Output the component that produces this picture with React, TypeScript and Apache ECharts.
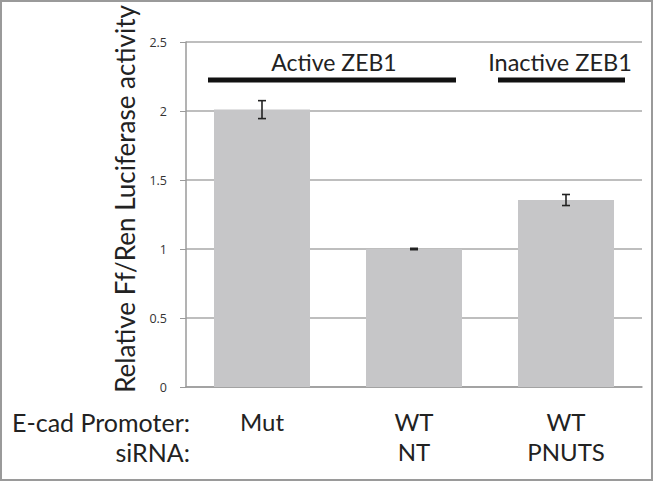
import React, { useEffect, useRef } from "react";
import * as echarts from "echarts";

const promoters = ["Mut", "WT", "WT"];
const sirnas = ["", "NT", "PNUTS"];
const values = [2.01, 1.0, 1.355];
const errors = [0.065, 0.005, 0.04];
const yTicks = [0, 0.5, 1, 1.5, 2, 2.5];
const groupLabels = ["Active ZEB1", "Inactive ZEB1"];
const yTitle = "Relative Ff/Ren Luciferase activity";

const FONT = "Lato";

export default function App() {
  const ref = useRef<HTMLDivElement>(null);
  useEffect(() => {
    if (!ref.current) return;
    const chart = echarts.init(ref.current, undefined, { renderer: "svg" });
    const categories = promoters.map((p, i) => p + "\n" + sirnas[i]);
    chart.setOption({
      animation: false,
      backgroundColor: "#ffffff",
      grid: { left: 186, right: 11, top: 42, bottom: 94, containLabel: false },
      xAxis: {
        type: "category",
        data: categories,
        axisLine: { show: true, lineStyle: { color: "#9a9a9a", width: 1.5 } },
        axisTick: { show: false },
        axisLabel: {
          color: "#222",
          fontFamily: FONT,
          fontSize: 24,
          lineHeight: 30,
          margin: 19,
          verticalAlign: "top",
        },
      },
      yAxis: {
        type: "value",
        min: yTicks[0],
        max: yTicks[yTicks.length - 1],
        interval: 0.5,
        axisLine: { show: true, lineStyle: { color: "#9a9a9a", width: 1.5 } },
        axisTick: { show: true, length: 6, lineStyle: { color: "#9a9a9a" } },
        axisLabel: { color: "#333", fontFamily: "Open Sans", fontSize: 12.5, margin: 19 },
        splitLine: { show: true, lineStyle: { color: "#a8a8a8", width: 1.5 } },
      },
      series: [
        {
          type: "bar",
          data: values,
          barWidth: 96,
          itemStyle: { color: "#c6c6c8" },
          z: 2,
        },
        {
          type: "custom",
          z: 5,
          data: values.map((v, i) => [i, v - errors[i], v + errors[i]]),
          renderItem: (params: any, api: any) => {
            const x = api.value(0);
            const lo = api.coord([x, api.value(1)]);
            const hi = api.coord([x, api.value(2)]);
            const cap = 4;
            const style = { stroke: "#222", lineWidth: 1.6 };
            return {
              type: "group",
              children: [
                { type: "line", shape: { x1: lo[0], y1: lo[1], x2: hi[0], y2: hi[1] }, style },
                { type: "line", shape: { x1: lo[0] - cap, y1: lo[1], x2: lo[0] + cap, y2: lo[1] }, style },
                { type: "line", shape: { x1: hi[0] - cap, y1: hi[1], x2: hi[0] + cap, y2: hi[1] }, style },
              ],
            };
          },
        },
      ],
      graphic: [
        {
          type: "text",
          x: 125,
          y: 199,
          rotation: Math.PI / 2,
          style: { text: yTitle, fill: "#222", font: `26px '${FONT}'`, align: "center", verticalAlign: "middle" },
        },
        {
          type: "text",
          x: 190,
          y: 422,
          style: { text: "E-cad Promoter:", fill: "#222", font: `25px '${FONT}'`, align: "right", verticalAlign: "middle" },
        },
        {
          type: "text",
          x: 190,
          y: 452,
          style: { text: "siRNA:", fill: "#222", font: `25px '${FONT}'`, align: "right", verticalAlign: "middle" },
        },
        {
          type: "text",
          x: 334,
          y: 62,
          style: { text: groupLabels[0], fill: "#222", font: `23px '${FONT}'`, align: "center", verticalAlign: "middle" },
        },
        {
          type: "text",
          x: 560,
          y: 62,
          style: { text: groupLabels[1], fill: "#222", font: `23.5px '${FONT}'`, align: "center", verticalAlign: "middle" },
        },
        {
          type: "line",
          shape: { x1: 208, y1: 80, x2: 456, y2: 80 },
          style: { stroke: "#111", lineWidth: 5 },
        },
        {
          type: "line",
          shape: { x1: 498, y1: 80, x2: 625, y2: 80 },
          style: { stroke: "#111", lineWidth: 5 },
        },
      ],
    });
    return () => chart.dispose();
  }, []);
  return (
    <div style={{ position: "absolute", left: 0, top: 0, width: 653, height: 481 }}>
      <div ref={ref} style={{ position: "absolute", left: 0, top: 0, width: 653, height: 481 }} />
      <div
        style={{
          position: "absolute",
          left: 0,
          top: 0,
          width: 653,
          height: 481,
          boxSizing: "border-box",
          border: "2px solid #9a9a9a",
          pointerEvents: "none",
        }}
      />
    </div>
  );
}
